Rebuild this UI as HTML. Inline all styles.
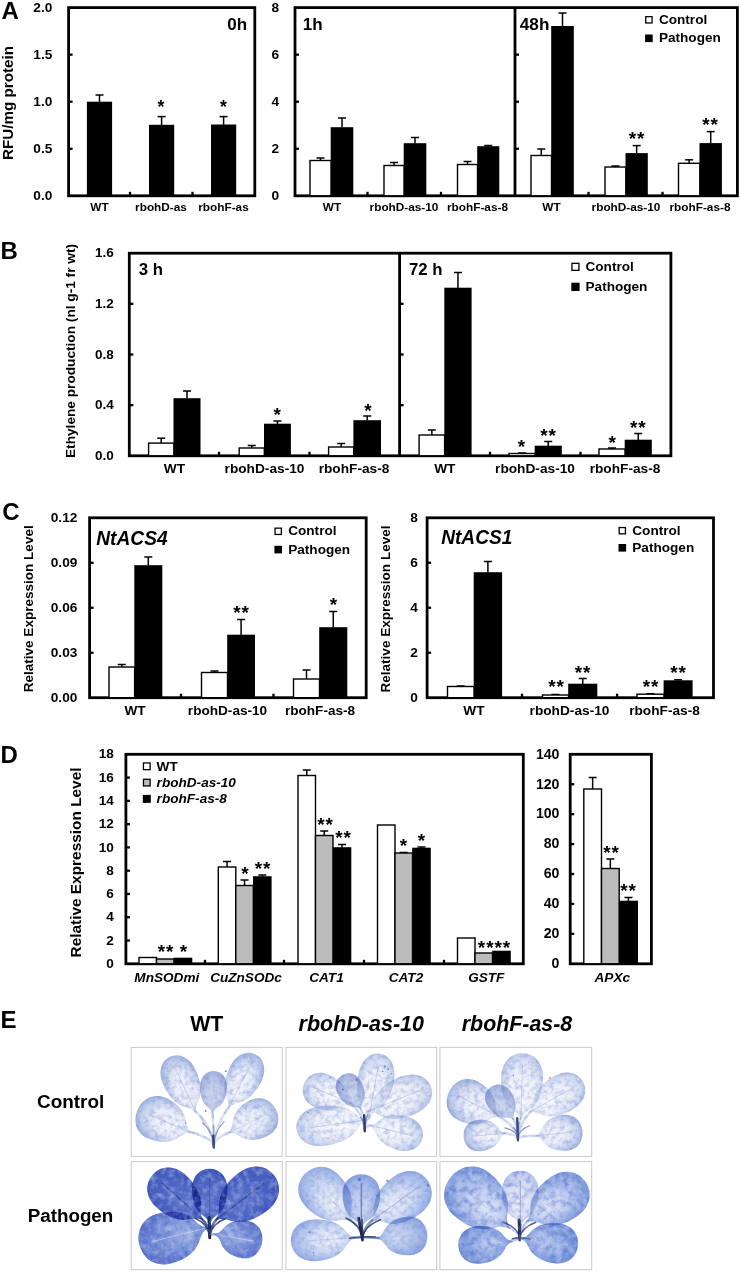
<!DOCTYPE html>
<html lang="en"><head><meta charset="utf-8"><title>Figure</title>
<style>html,body{margin:0;padding:0;background:#fff}body{width:740px;height:1272px;overflow:hidden}svg text{font-family:"Liberation Sans",Arial,Helvetica,sans-serif}</style></head>
<body>
<svg width="740" height="1272" viewBox="0 0 740 1272" style="display:block;font-family:'Liberation Sans', Arial, Helvetica, sans-serif">
<rect width="740" height="1272" fill="#fff"/>
<defs><filter id="soft" x="-5%" y="-5%" width="110%" height="110%" color-interpolation-filters="sRGB"><feTurbulence type="fractalNoise" baseFrequency="0.2" numOctaves="3" seed="11" result="n"/><feColorMatrix in="n" type="matrix" values="0 0 0 0 0.42  0 0 0 0 0.52  0 0 0 0 0.82  0.95 0 0 0 -0.40" result="nb"/><feComposite in="nb" in2="SourceGraphic" operator="in" result="nm"/><feMerge result="m"><feMergeNode in="SourceGraphic"/><feMergeNode in="nm"/></feMerge><feGaussianBlur in="m" stdDeviation="0.5"/></filter><filter id="softw" x="-5%" y="-5%" width="110%" height="110%" color-interpolation-filters="sRGB"><feTurbulence type="fractalNoise" baseFrequency="0.16" numOctaves="3" seed="5" result="n"/><feColorMatrix in="n" type="matrix" values="0 0 0 0 0.30  0 0 0 0 0.40  0 0 0 0 0.78  1.2 0 0 0 -0.50" result="nb"/><feColorMatrix in="n" type="matrix" values="0 0 0 0 0.92  0 0 0 0 0.94  0 0 0 0 1  0 0.8 0 0 -0.33" result="nw"/><feComposite in="nb" in2="SourceGraphic" operator="in" result="nm"/><feComposite in="nw" in2="SourceGraphic" operator="in" result="nm2"/><feMerge result="m"><feMergeNode in="SourceGraphic"/><feMergeNode in="nm"/><feMergeNode in="nm2"/></feMerge><feGaussianBlur in="m" stdDeviation="0.5"/></filter><radialGradient id="g0" cx="0.5" cy="0.5" fx="0.36" fy="0.5" r="0.58"><stop offset="0" stop-color="#f6f7fc"/><stop offset="0.5" stop-color="#e7ebf7"/><stop offset="0.78" stop-color="#c0cdea"/><stop offset="1" stop-color="#8fa6da"/></radialGradient><radialGradient id="g1" cx="0.5" cy="0.5" fx="0.36" fy="0.5" r="0.58"><stop offset="0" stop-color="#f6f7fc"/><stop offset="0.5" stop-color="#e7ebf7"/><stop offset="0.78" stop-color="#c0cdea"/><stop offset="1" stop-color="#8fa6da"/></radialGradient><radialGradient id="g2" cx="0.5" cy="0.5" fx="0.36" fy="0.5" r="0.58"><stop offset="0" stop-color="#f6f7fc"/><stop offset="0.5" stop-color="#e7ebf7"/><stop offset="0.78" stop-color="#c0cdea"/><stop offset="1" stop-color="#8fa6da"/></radialGradient><radialGradient id="g3" cx="0.5" cy="0.5" fx="0.36" fy="0.5" r="0.58"><stop offset="0" stop-color="#f6f7fc"/><stop offset="0.5" stop-color="#e7ebf7"/><stop offset="0.78" stop-color="#c0cdea"/><stop offset="1" stop-color="#8fa6da"/></radialGradient><radialGradient id="g4" cx="0.5" cy="0.5" fx="0.36" fy="0.5" r="0.58"><stop offset="0" stop-color="#d6dcf0"/><stop offset="0.6" stop-color="#bcc7e7"/><stop offset="1" stop-color="#99abda"/></radialGradient><radialGradient id="g5" cx="0.5" cy="0.5" fx="0.36" fy="0.5" r="0.58"><stop offset="0" stop-color="#f8f9fd"/><stop offset="0.55" stop-color="#eceff8"/><stop offset="0.82" stop-color="#cfd8ef"/><stop offset="1" stop-color="#a5b7e2"/></radialGradient><radialGradient id="g6" cx="0.5" cy="0.5" fx="0.36" fy="0.5" r="0.58"><stop offset="0" stop-color="#f8f9fd"/><stop offset="0.55" stop-color="#eceff8"/><stop offset="0.82" stop-color="#cfd8ef"/><stop offset="1" stop-color="#a5b7e2"/></radialGradient><radialGradient id="g7" cx="0.5" cy="0.5" fx="0.36" fy="0.5" r="0.58"><stop offset="0" stop-color="#f8f9fd"/><stop offset="0.55" stop-color="#eceff8"/><stop offset="0.82" stop-color="#cfd8ef"/><stop offset="1" stop-color="#a5b7e2"/></radialGradient><radialGradient id="g8" cx="0.5" cy="0.5" fx="0.36" fy="0.5" r="0.58"><stop offset="0" stop-color="#f8f9fd"/><stop offset="0.55" stop-color="#eceff8"/><stop offset="0.82" stop-color="#cfd8ef"/><stop offset="1" stop-color="#a5b7e2"/></radialGradient><radialGradient id="g9" cx="0.5" cy="0.5" fx="0.36" fy="0.5" r="0.58"><stop offset="0" stop-color="#f8f9fd"/><stop offset="0.55" stop-color="#eceff8"/><stop offset="0.82" stop-color="#cfd8ef"/><stop offset="1" stop-color="#a5b7e2"/></radialGradient><radialGradient id="g10" cx="0.5" cy="0.5" fx="0.36" fy="0.5" r="0.58"><stop offset="0" stop-color="#d6dcf0"/><stop offset="0.6" stop-color="#bcc7e7"/><stop offset="1" stop-color="#99abda"/></radialGradient><radialGradient id="g11" cx="0.5" cy="0.5" fx="0.36" fy="0.5" r="0.58"><stop offset="0" stop-color="#f6f7fc"/><stop offset="0.5" stop-color="#e7ebf7"/><stop offset="0.78" stop-color="#c0cdea"/><stop offset="1" stop-color="#8fa6da"/></radialGradient><radialGradient id="g12" cx="0.5" cy="0.5" fx="0.36" fy="0.5" r="0.58"><stop offset="0" stop-color="#f6f7fc"/><stop offset="0.5" stop-color="#e7ebf7"/><stop offset="0.78" stop-color="#c0cdea"/><stop offset="1" stop-color="#8fa6da"/></radialGradient><radialGradient id="g13" cx="0.5" cy="0.5" fx="0.36" fy="0.5" r="0.58"><stop offset="0" stop-color="#f8f9fd"/><stop offset="0.55" stop-color="#eceff8"/><stop offset="0.82" stop-color="#cfd8ef"/><stop offset="1" stop-color="#a5b7e2"/></radialGradient><radialGradient id="g14" cx="0.5" cy="0.5" fx="0.36" fy="0.5" r="0.58"><stop offset="0" stop-color="#f6f7fc"/><stop offset="0.5" stop-color="#e7ebf7"/><stop offset="0.78" stop-color="#c0cdea"/><stop offset="1" stop-color="#8fa6da"/></radialGradient><radialGradient id="g15" cx="0.5" cy="0.5" fx="0.36" fy="0.5" r="0.58"><stop offset="0" stop-color="#f8f9fd"/><stop offset="0.55" stop-color="#eceff8"/><stop offset="0.82" stop-color="#cfd8ef"/><stop offset="1" stop-color="#a5b7e2"/></radialGradient><radialGradient id="g16" cx="0.5" cy="0.5" fx="0.36" fy="0.5" r="0.58"><stop offset="0" stop-color="#d6dcf0"/><stop offset="0.6" stop-color="#bcc7e7"/><stop offset="1" stop-color="#99abda"/></radialGradient><radialGradient id="g17" cx="0.5" cy="0.5" fx="0.3" fy="0.5" r="0.58"><stop offset="0" stop-color="#9fb1e4"/><stop offset="0.45" stop-color="#7e95d9"/><stop offset="0.8" stop-color="#627ace"/><stop offset="1" stop-color="#4f68c4"/></radialGradient><radialGradient id="g18" cx="0.5" cy="0.5" fx="0.3" fy="0.5" r="0.58"><stop offset="0" stop-color="#9fb1e4"/><stop offset="0.45" stop-color="#7e95d9"/><stop offset="0.8" stop-color="#627ace"/><stop offset="1" stop-color="#4f68c4"/></radialGradient><radialGradient id="g19" cx="0.5" cy="0.5" fx="0.36" fy="0.5" r="0.58"><stop offset="0" stop-color="#5f77cd"/><stop offset="0.5" stop-color="#4d65c3"/><stop offset="0.85" stop-color="#4058ba"/><stop offset="1" stop-color="#374eb0"/></radialGradient><radialGradient id="g20" cx="0.5" cy="0.5" fx="0.36" fy="0.5" r="0.58"><stop offset="0" stop-color="#5f77cd"/><stop offset="0.5" stop-color="#4d65c3"/><stop offset="0.85" stop-color="#4058ba"/><stop offset="1" stop-color="#374eb0"/></radialGradient><radialGradient id="g21" cx="0.5" cy="0.5" fx="0.36" fy="0.5" r="0.58"><stop offset="0" stop-color="#5f77cd"/><stop offset="0.5" stop-color="#4d65c3"/><stop offset="0.85" stop-color="#4058ba"/><stop offset="1" stop-color="#374eb0"/></radialGradient><radialGradient id="g22" cx="0.5" cy="0.5" fx="0.36" fy="0.5" r="0.58"><stop offset="0" stop-color="#eef1fa"/><stop offset="0.45" stop-color="#d5def4"/><stop offset="0.8" stop-color="#aabdea"/><stop offset="1" stop-color="#88a2de"/></radialGradient><radialGradient id="g23" cx="0.5" cy="0.5" fx="0.36" fy="0.5" r="0.58"><stop offset="0" stop-color="#eef1fa"/><stop offset="0.45" stop-color="#d5def4"/><stop offset="0.8" stop-color="#aabdea"/><stop offset="1" stop-color="#88a2de"/></radialGradient><radialGradient id="g24" cx="0.5" cy="0.5" fx="0.36" fy="0.5" r="0.58"><stop offset="0" stop-color="#eef1fa"/><stop offset="0.45" stop-color="#d5def4"/><stop offset="0.8" stop-color="#aabdea"/><stop offset="1" stop-color="#88a2de"/></radialGradient><radialGradient id="g25" cx="0.5" cy="0.5" fx="0.36" fy="0.5" r="0.58"><stop offset="0" stop-color="#d3dcf3"/><stop offset="0.5" stop-color="#b6c6ec"/><stop offset="0.85" stop-color="#93abe2"/><stop offset="1" stop-color="#7f9ada"/></radialGradient><radialGradient id="g26" cx="0.5" cy="0.5" fx="0.36" fy="0.5" r="0.58"><stop offset="0" stop-color="#d3dcf3"/><stop offset="0.5" stop-color="#b6c6ec"/><stop offset="0.85" stop-color="#93abe2"/><stop offset="1" stop-color="#7f9ada"/></radialGradient><radialGradient id="g27" cx="0.5" cy="0.5" fx="0.36" fy="0.5" r="0.58"><stop offset="0" stop-color="#e1e6f7"/><stop offset="0.4" stop-color="#c0cdf0"/><stop offset="0.75" stop-color="#90a9e2"/><stop offset="1" stop-color="#6c8ad6"/></radialGradient><radialGradient id="g28" cx="0.5" cy="0.5" fx="0.36" fy="0.5" r="0.58"><stop offset="0" stop-color="#b6c6ed"/><stop offset="0.5" stop-color="#94ace3"/><stop offset="0.85" stop-color="#7594da"/><stop offset="1" stop-color="#6282d2"/></radialGradient><radialGradient id="g29" cx="0.5" cy="0.5" fx="0.36" fy="0.5" r="0.58"><stop offset="0" stop-color="#e1e6f7"/><stop offset="0.4" stop-color="#c0cdf0"/><stop offset="0.75" stop-color="#90a9e2"/><stop offset="1" stop-color="#6c8ad6"/></radialGradient><radialGradient id="g30" cx="0.5" cy="0.5" fx="0.36" fy="0.5" r="0.58"><stop offset="0" stop-color="#b6c6ed"/><stop offset="0.5" stop-color="#94ace3"/><stop offset="0.85" stop-color="#7594da"/><stop offset="1" stop-color="#6282d2"/></radialGradient><radialGradient id="g31" cx="0.5" cy="0.5" fx="0.36" fy="0.5" r="0.58"><stop offset="0" stop-color="#eceefa"/><stop offset="0.6" stop-color="#d6dcf3"/><stop offset="1" stop-color="#b3c1ea"/></radialGradient></defs>
<text x="1.50" y="18.50" style="font-size:24px;font-weight:bold;" fill="#000">A</text>
<rect x="68.60" y="7.60" width="186.20" height="188.20" fill="none" stroke="#000" stroke-width="2.8" />
<line x1="68.60" y1="54.65" x2="72.60" y2="54.65" stroke="#000" stroke-width="2.3"/>
<line x1="68.60" y1="101.70" x2="72.60" y2="101.70" stroke="#000" stroke-width="2.3"/>
<line x1="68.60" y1="148.75" x2="72.60" y2="148.75" stroke="#000" stroke-width="2.3"/>
<text x="52.30" y="11.80" text-anchor="end" style="font-size:13.7px;font-weight:bold;" fill="#000">2.0</text>
<text x="52.30" y="58.85" text-anchor="end" style="font-size:13.7px;font-weight:bold;" fill="#000">1.5</text>
<text x="52.30" y="105.90" text-anchor="end" style="font-size:13.7px;font-weight:bold;" fill="#000">1.0</text>
<text x="52.30" y="152.95" text-anchor="end" style="font-size:13.7px;font-weight:bold;" fill="#000">0.5</text>
<text x="52.30" y="200.00" text-anchor="end" style="font-size:13.7px;font-weight:bold;" fill="#000">0.0</text>
<text x="12.50" y="103.00" text-anchor="middle" transform="rotate(-90 12.50 103.00)" style="font-size:15.2px;font-weight:bold;" fill="#000">RFU/mg protein</text>
<line x1="130.00" y1="195.80" x2="130.00" y2="191.80" stroke="#000" stroke-width="2.3"/>
<line x1="192.50" y1="195.80" x2="192.50" y2="191.80" stroke="#000" stroke-width="2.3"/>
<line x1="99.50" y1="102.00" x2="99.50" y2="95.00" stroke="#000" stroke-width="1.5"/>
<line x1="95.50" y1="95.00" x2="103.50" y2="95.00" stroke="#000" stroke-width="1.5"/>
<rect x="86.90" y="101.70" width="25.20" height="94.10" fill="#000"/>
<line x1="161.60" y1="125.10" x2="161.60" y2="116.60" stroke="#000" stroke-width="1.5"/>
<line x1="157.60" y1="116.60" x2="165.60" y2="116.60" stroke="#000" stroke-width="1.5"/>
<rect x="149.00" y="124.80" width="25.20" height="71.00" fill="#000"/>
<line x1="223.60" y1="124.80" x2="223.60" y2="116.60" stroke="#000" stroke-width="1.5"/>
<line x1="219.60" y1="116.60" x2="227.60" y2="116.60" stroke="#000" stroke-width="1.5"/>
<rect x="211.00" y="124.50" width="25.20" height="71.30" fill="#000"/>
<text x="161.00" y="112.89" text-anchor="middle" style="font-size:17.7px;font-weight:bold;" fill="#000">*</text>
<text x="223.50" y="112.89" text-anchor="middle" style="font-size:17.7px;font-weight:bold;" fill="#000">*</text>
<text x="237.10" y="29.70" text-anchor="middle" style="font-size:17px;font-weight:bold;" fill="#000">0h</text>
<text x="99.50" y="210.80" text-anchor="middle" style="font-size:11.8px;font-weight:bold;" fill="#000">WT</text>
<text x="161.00" y="210.80" text-anchor="middle" style="font-size:11.8px;font-weight:bold;" fill="#000">rbohD-as</text>
<text x="223.50" y="210.80" text-anchor="middle" style="font-size:11.8px;font-weight:bold;" fill="#000">rbohF-as</text>
<rect x="295.00" y="7.60" width="442.40" height="188.20" fill="none" stroke="#000" stroke-width="2.8" />
<line x1="515.00" y1="7.60" x2="515.00" y2="195.80" stroke="#000" stroke-width="2.8"/>
<line x1="295.00" y1="54.65" x2="299.00" y2="54.65" stroke="#000" stroke-width="2.3"/>
<line x1="295.00" y1="101.70" x2="299.00" y2="101.70" stroke="#000" stroke-width="2.3"/>
<line x1="295.00" y1="148.75" x2="299.00" y2="148.75" stroke="#000" stroke-width="2.3"/>
<line x1="515.00" y1="54.65" x2="519.00" y2="54.65" stroke="#000" stroke-width="2.3"/>
<line x1="515.00" y1="101.70" x2="519.00" y2="101.70" stroke="#000" stroke-width="2.3"/>
<line x1="515.00" y1="148.75" x2="519.00" y2="148.75" stroke="#000" stroke-width="2.3"/>
<text x="279.10" y="11.80" text-anchor="end" style="font-size:13.7px;font-weight:bold;" fill="#000">8</text>
<text x="279.10" y="58.85" text-anchor="end" style="font-size:13.7px;font-weight:bold;" fill="#000">6</text>
<text x="279.10" y="105.90" text-anchor="end" style="font-size:13.7px;font-weight:bold;" fill="#000">4</text>
<text x="279.10" y="152.95" text-anchor="end" style="font-size:13.7px;font-weight:bold;" fill="#000">2</text>
<text x="279.10" y="200.00" text-anchor="end" style="font-size:13.7px;font-weight:bold;" fill="#000">0</text>
<line x1="367.50" y1="195.80" x2="367.50" y2="191.80" stroke="#000" stroke-width="2.3"/>
<line x1="441.00" y1="195.80" x2="441.00" y2="191.80" stroke="#000" stroke-width="2.3"/>
<line x1="588.50" y1="195.80" x2="588.50" y2="191.80" stroke="#000" stroke-width="2.3"/>
<line x1="662.50" y1="195.80" x2="662.50" y2="191.80" stroke="#000" stroke-width="2.3"/>
<line x1="342.00" y1="127.50" x2="342.00" y2="118.00" stroke="#000" stroke-width="1.5"/>
<line x1="338.00" y1="118.00" x2="346.00" y2="118.00" stroke="#000" stroke-width="1.5"/>
<rect x="330.70" y="127.20" width="22.60" height="68.60" fill="#000"/>
<line x1="320.50" y1="160.50" x2="320.50" y2="158.00" stroke="#000" stroke-width="1.5"/>
<line x1="316.50" y1="158.00" x2="324.50" y2="158.00" stroke="#000" stroke-width="1.5"/>
<rect x="310.00" y="160.50" width="21.00" height="35.30" fill="#fff" stroke="#000" stroke-width="1.4"/>
<line x1="415.00" y1="143.50" x2="415.00" y2="137.50" stroke="#000" stroke-width="1.5"/>
<line x1="411.00" y1="137.50" x2="419.00" y2="137.50" stroke="#000" stroke-width="1.5"/>
<rect x="403.70" y="143.20" width="22.60" height="52.60" fill="#000"/>
<line x1="394.00" y1="165.50" x2="394.00" y2="162.50" stroke="#000" stroke-width="1.5"/>
<line x1="390.00" y1="162.50" x2="398.00" y2="162.50" stroke="#000" stroke-width="1.5"/>
<rect x="384.00" y="165.50" width="20.00" height="30.30" fill="#fff" stroke="#000" stroke-width="1.4"/>
<line x1="488.25" y1="146.50" x2="488.25" y2="145.50" stroke="#000" stroke-width="1.5"/>
<line x1="484.25" y1="145.50" x2="492.25" y2="145.50" stroke="#000" stroke-width="1.5"/>
<rect x="477.20" y="146.20" width="22.10" height="49.60" fill="#000"/>
<line x1="467.50" y1="164.50" x2="467.50" y2="161.50" stroke="#000" stroke-width="1.5"/>
<line x1="463.50" y1="161.50" x2="471.50" y2="161.50" stroke="#000" stroke-width="1.5"/>
<rect x="457.50" y="164.50" width="20.00" height="31.30" fill="#fff" stroke="#000" stroke-width="1.4"/>
<line x1="562.50" y1="26.30" x2="562.50" y2="13.00" stroke="#000" stroke-width="1.5"/>
<line x1="558.50" y1="13.00" x2="566.50" y2="13.00" stroke="#000" stroke-width="1.5"/>
<rect x="551.20" y="26.00" width="22.60" height="169.80" fill="#000"/>
<line x1="541.25" y1="155.50" x2="541.25" y2="149.00" stroke="#000" stroke-width="1.5"/>
<line x1="537.25" y1="149.00" x2="545.25" y2="149.00" stroke="#000" stroke-width="1.5"/>
<rect x="531.00" y="155.50" width="20.50" height="40.30" fill="#fff" stroke="#000" stroke-width="1.4"/>
<line x1="636.65" y1="153.40" x2="636.65" y2="145.60" stroke="#000" stroke-width="1.5"/>
<line x1="632.65" y1="145.60" x2="640.65" y2="145.60" stroke="#000" stroke-width="1.5"/>
<rect x="625.50" y="153.10" width="22.30" height="42.70" fill="#000"/>
<line x1="615.40" y1="167.00" x2="615.40" y2="166.00" stroke="#000" stroke-width="1.5"/>
<line x1="611.40" y1="166.00" x2="619.40" y2="166.00" stroke="#000" stroke-width="1.5"/>
<rect x="605.00" y="167.00" width="20.80" height="28.80" fill="#fff" stroke="#000" stroke-width="1.4"/>
<line x1="710.70" y1="143.40" x2="710.70" y2="131.60" stroke="#000" stroke-width="1.5"/>
<line x1="706.70" y1="131.60" x2="714.70" y2="131.60" stroke="#000" stroke-width="1.5"/>
<rect x="699.50" y="143.10" width="22.40" height="52.70" fill="#000"/>
<line x1="689.15" y1="163.30" x2="689.15" y2="159.80" stroke="#000" stroke-width="1.5"/>
<line x1="685.15" y1="159.80" x2="693.15" y2="159.80" stroke="#000" stroke-width="1.5"/>
<rect x="678.50" y="163.30" width="21.30" height="32.50" fill="#fff" stroke="#000" stroke-width="1.4"/>
<text x="637.05" y="144.85" text-anchor="middle" style="font-size:19px;font-weight:bold;letter-spacing:0.9px;">**</text>
<text x="710.55" y="131.05" text-anchor="middle" style="font-size:19px;font-weight:bold;letter-spacing:0.9px;">**</text>
<text x="302.80" y="29.60" style="font-size:17px;font-weight:bold;" fill="#000">1h</text>
<text x="519.80" y="29.60" style="font-size:17.2px;font-weight:bold;" fill="#000">48h</text>
<rect x="645.75" y="16.65" width="6.30" height="6.30" fill="#fff" stroke="#000" stroke-width="1.3"/>
<text x="658.90" y="23.80" style="font-size:13.6px;font-weight:bold;" fill="#000">Control</text>
<rect x="645.10" y="34.50" width="7.60" height="7.60" fill="#000"/>
<text x="658.90" y="42.30" style="font-size:13.6px;font-weight:bold;" fill="#000">Pathogen</text>
<text x="332.00" y="210.60" text-anchor="middle" style="font-size:11.8px;font-weight:bold;" fill="#000">WT</text>
<text x="404.00" y="210.60" text-anchor="middle" style="font-size:11.8px;font-weight:bold;" fill="#000">rbohD-as-10</text>
<text x="477.50" y="210.60" text-anchor="middle" style="font-size:11.8px;font-weight:bold;" fill="#000">rbohF-as-8</text>
<text x="551.50" y="210.60" text-anchor="middle" style="font-size:11.8px;font-weight:bold;" fill="#000">WT</text>
<text x="626.00" y="210.60" text-anchor="middle" style="font-size:11.8px;font-weight:bold;" fill="#000">rbohD-as-10</text>
<text x="700.00" y="210.60" text-anchor="middle" style="font-size:11.8px;font-weight:bold;" fill="#000">rbohF-as-8</text>
<text x="0.50" y="259.30" style="font-size:24px;font-weight:bold;" fill="#000">B</text>
<rect x="129.30" y="253.20" width="541.60" height="202.60" fill="none" stroke="#000" stroke-width="2.8" />
<line x1="399.60" y1="253.20" x2="399.60" y2="455.80" stroke="#000" stroke-width="2.8"/>
<line x1="129.30" y1="303.85" x2="133.30" y2="303.85" stroke="#000" stroke-width="2.3"/>
<line x1="129.30" y1="354.50" x2="133.30" y2="354.50" stroke="#000" stroke-width="2.3"/>
<line x1="129.30" y1="405.15" x2="133.30" y2="405.15" stroke="#000" stroke-width="2.3"/>
<line x1="399.60" y1="303.85" x2="403.60" y2="303.85" stroke="#000" stroke-width="2.3"/>
<line x1="399.60" y1="354.50" x2="403.60" y2="354.50" stroke="#000" stroke-width="2.3"/>
<line x1="399.60" y1="405.15" x2="403.60" y2="405.15" stroke="#000" stroke-width="2.3"/>
<text x="113.80" y="257.40" text-anchor="end" style="font-size:13.5px;font-weight:bold;" fill="#000">1.6</text>
<text x="113.80" y="308.05" text-anchor="end" style="font-size:13.5px;font-weight:bold;" fill="#000">1.2</text>
<text x="113.80" y="358.70" text-anchor="end" style="font-size:13.5px;font-weight:bold;" fill="#000">0.8</text>
<text x="113.80" y="409.35" text-anchor="end" style="font-size:13.5px;font-weight:bold;" fill="#000">0.4</text>
<text x="113.80" y="460.00" text-anchor="end" style="font-size:13.5px;font-weight:bold;" fill="#000">0.0</text>
<text x="74.60" y="351.00" text-anchor="middle" textLength="214" lengthAdjust="spacingAndGlyphs" transform="rotate(-90 74.60 351.00)" style="font-size:13.4px;font-weight:bold;" fill="#000">Ethylene production (nl g-1 fr wt)</text>
<line x1="219.00" y1="455.80" x2="219.00" y2="451.80" stroke="#000" stroke-width="2.3"/>
<line x1="309.50" y1="455.80" x2="309.50" y2="451.80" stroke="#000" stroke-width="2.3"/>
<line x1="490.00" y1="455.80" x2="490.00" y2="451.80" stroke="#000" stroke-width="2.3"/>
<line x1="580.50" y1="455.80" x2="580.50" y2="451.80" stroke="#000" stroke-width="2.3"/>
<line x1="187.00" y1="398.50" x2="187.00" y2="391.00" stroke="#000" stroke-width="1.5"/>
<line x1="183.00" y1="391.00" x2="191.00" y2="391.00" stroke="#000" stroke-width="1.5"/>
<rect x="173.50" y="398.20" width="27.00" height="57.60" fill="#000"/>
<line x1="161.20" y1="443.10" x2="161.20" y2="438.20" stroke="#000" stroke-width="1.5"/>
<line x1="157.20" y1="438.20" x2="165.20" y2="438.20" stroke="#000" stroke-width="1.5"/>
<rect x="148.60" y="443.10" width="25.20" height="12.70" fill="#fff" stroke="#000" stroke-width="1.4"/>
<line x1="277.45" y1="424.00" x2="277.45" y2="421.00" stroke="#000" stroke-width="1.5"/>
<line x1="273.45" y1="421.00" x2="281.45" y2="421.00" stroke="#000" stroke-width="1.5"/>
<rect x="264.00" y="423.70" width="26.90" height="32.10" fill="#000"/>
<line x1="251.75" y1="448.00" x2="251.75" y2="445.50" stroke="#000" stroke-width="1.5"/>
<line x1="247.75" y1="445.50" x2="255.75" y2="445.50" stroke="#000" stroke-width="1.5"/>
<rect x="239.20" y="448.00" width="25.10" height="7.80" fill="#fff" stroke="#000" stroke-width="1.4"/>
<line x1="367.20" y1="420.50" x2="367.20" y2="416.00" stroke="#000" stroke-width="1.5"/>
<line x1="363.20" y1="416.00" x2="371.20" y2="416.00" stroke="#000" stroke-width="1.5"/>
<rect x="353.40" y="420.20" width="27.60" height="35.60" fill="#000"/>
<line x1="341.15" y1="447.00" x2="341.15" y2="443.50" stroke="#000" stroke-width="1.5"/>
<line x1="337.15" y1="443.50" x2="345.15" y2="443.50" stroke="#000" stroke-width="1.5"/>
<rect x="328.60" y="447.00" width="25.10" height="8.80" fill="#fff" stroke="#000" stroke-width="1.4"/>
<line x1="457.95" y1="288.00" x2="457.95" y2="272.50" stroke="#000" stroke-width="1.5"/>
<line x1="453.95" y1="272.50" x2="461.95" y2="272.50" stroke="#000" stroke-width="1.5"/>
<rect x="444.30" y="287.70" width="27.30" height="168.10" fill="#000"/>
<line x1="431.85" y1="435.00" x2="431.85" y2="430.00" stroke="#000" stroke-width="1.5"/>
<line x1="427.85" y1="430.00" x2="435.85" y2="430.00" stroke="#000" stroke-width="1.5"/>
<rect x="419.10" y="435.00" width="25.50" height="20.80" fill="#fff" stroke="#000" stroke-width="1.4"/>
<line x1="548.25" y1="446.00" x2="548.25" y2="441.50" stroke="#000" stroke-width="1.5"/>
<line x1="544.25" y1="441.50" x2="552.25" y2="441.50" stroke="#000" stroke-width="1.5"/>
<rect x="534.70" y="445.70" width="27.10" height="10.10" fill="#000"/>
<line x1="522.00" y1="453.50" x2="522.00" y2="453.00" stroke="#000" stroke-width="1.5"/>
<line x1="518.00" y1="453.00" x2="526.00" y2="453.00" stroke="#000" stroke-width="1.5"/>
<rect x="509.00" y="453.50" width="26.00" height="2.30" fill="#fff" stroke="#000" stroke-width="1.4"/>
<line x1="638.25" y1="440.00" x2="638.25" y2="433.50" stroke="#000" stroke-width="1.5"/>
<line x1="634.25" y1="433.50" x2="642.25" y2="433.50" stroke="#000" stroke-width="1.5"/>
<rect x="624.70" y="439.70" width="27.10" height="16.10" fill="#000"/>
<line x1="612.00" y1="449.00" x2="612.00" y2="448.00" stroke="#000" stroke-width="1.5"/>
<line x1="608.00" y1="448.00" x2="616.00" y2="448.00" stroke="#000" stroke-width="1.5"/>
<rect x="599.00" y="449.00" width="26.00" height="6.80" fill="#fff" stroke="#000" stroke-width="1.4"/>
<text x="277.20" y="420.75" text-anchor="middle" style="font-size:19px;font-weight:bold;" fill="#000">*</text>
<text x="368.00" y="417.25" text-anchor="middle" style="font-size:19px;font-weight:bold;" fill="#000">*</text>
<text x="521.40" y="452.75" text-anchor="middle" style="font-size:19px;font-weight:bold;" fill="#000">*</text>
<text x="548.45" y="442.05" text-anchor="middle" style="font-size:19px;font-weight:bold;letter-spacing:0.9px;">**</text>
<text x="612.10" y="448.95" text-anchor="middle" style="font-size:19px;font-weight:bold;" fill="#000">*</text>
<text x="638.25" y="434.05" text-anchor="middle" style="font-size:19px;font-weight:bold;letter-spacing:0.9px;">**</text>
<text x="138.80" y="275.20" style="font-size:16.8px;font-weight:bold;" fill="#000">3 h</text>
<text x="409.00" y="275.20" style="font-size:16.8px;font-weight:bold;" fill="#000">72 h</text>
<rect x="571.95" y="263.35" width="7.00" height="7.00" fill="#fff" stroke="#000" stroke-width="1.3"/>
<text x="585.50" y="271.20" style="font-size:13.6px;font-weight:bold;" fill="#000">Control</text>
<rect x="571.30" y="282.70" width="8.30" height="8.30" fill="#000"/>
<text x="585.50" y="291.20" style="font-size:13.6px;font-weight:bold;" fill="#000">Pathogen</text>
<text x="174.50" y="473.10" text-anchor="middle" style="font-size:13.7px;font-weight:bold;" fill="#000">WT</text>
<text x="264.50" y="473.10" text-anchor="middle" style="font-size:13.7px;font-weight:bold;" fill="#000">rbohD-as-10</text>
<text x="354.00" y="473.10" text-anchor="middle" style="font-size:13.7px;font-weight:bold;" fill="#000">rbohF-as-8</text>
<text x="444.80" y="473.10" text-anchor="middle" style="font-size:13.7px;font-weight:bold;" fill="#000">WT</text>
<text x="535.00" y="473.10" text-anchor="middle" style="font-size:13.7px;font-weight:bold;" fill="#000">rbohD-as-10</text>
<text x="625.00" y="473.10" text-anchor="middle" style="font-size:13.7px;font-weight:bold;" fill="#000">rbohF-as-8</text>
<text x="2.20" y="520.00" style="font-size:24px;font-weight:bold;" fill="#000">C</text>
<rect x="89.60" y="517.80" width="276.60" height="179.90" fill="none" stroke="#000" stroke-width="2.8" />
<line x1="89.60" y1="562.77" x2="93.60" y2="562.77" stroke="#000" stroke-width="2.3"/>
<line x1="89.60" y1="607.75" x2="93.60" y2="607.75" stroke="#000" stroke-width="2.3"/>
<line x1="89.60" y1="652.73" x2="93.60" y2="652.73" stroke="#000" stroke-width="2.3"/>
<text x="77.40" y="522.30" text-anchor="end" style="font-size:13.7px;font-weight:bold;" fill="#000">0.12</text>
<text x="77.40" y="567.27" text-anchor="end" style="font-size:13.7px;font-weight:bold;" fill="#000">0.09</text>
<text x="77.40" y="612.25" text-anchor="end" style="font-size:13.7px;font-weight:bold;" fill="#000">0.06</text>
<text x="77.40" y="657.23" text-anchor="end" style="font-size:13.7px;font-weight:bold;" fill="#000">0.03</text>
<text x="77.40" y="702.20" text-anchor="end" style="font-size:13.7px;font-weight:bold;" fill="#000">0.00</text>
<text x="33.20" y="608.80" text-anchor="middle" textLength="167" lengthAdjust="spacingAndGlyphs" transform="rotate(-90 33.20 608.80)" style="font-size:13.2px;font-weight:bold;" fill="#000">Relative Expression Level</text>
<line x1="181.00" y1="697.70" x2="181.00" y2="693.70" stroke="#000" stroke-width="2.3"/>
<line x1="273.50" y1="697.70" x2="273.50" y2="693.70" stroke="#000" stroke-width="2.3"/>
<line x1="148.30" y1="565.50" x2="148.30" y2="557.00" stroke="#000" stroke-width="1.5"/>
<line x1="144.30" y1="557.00" x2="152.30" y2="557.00" stroke="#000" stroke-width="1.5"/>
<rect x="134.30" y="565.20" width="28.00" height="132.50" fill="#000"/>
<line x1="121.80" y1="667.00" x2="121.80" y2="664.50" stroke="#000" stroke-width="1.5"/>
<line x1="117.80" y1="664.50" x2="125.80" y2="664.50" stroke="#000" stroke-width="1.5"/>
<rect x="109.00" y="667.00" width="25.60" height="30.70" fill="#fff" stroke="#000" stroke-width="1.4"/>
<line x1="241.10" y1="635.00" x2="241.10" y2="619.50" stroke="#000" stroke-width="1.5"/>
<line x1="237.10" y1="619.50" x2="245.10" y2="619.50" stroke="#000" stroke-width="1.5"/>
<rect x="227.20" y="634.70" width="27.80" height="63.00" fill="#000"/>
<line x1="214.50" y1="672.50" x2="214.50" y2="671.00" stroke="#000" stroke-width="1.5"/>
<line x1="210.50" y1="671.00" x2="218.50" y2="671.00" stroke="#000" stroke-width="1.5"/>
<rect x="201.50" y="672.50" width="26.00" height="25.20" fill="#fff" stroke="#000" stroke-width="1.4"/>
<line x1="333.25" y1="627.50" x2="333.25" y2="611.50" stroke="#000" stroke-width="1.5"/>
<line x1="329.25" y1="611.50" x2="337.25" y2="611.50" stroke="#000" stroke-width="1.5"/>
<rect x="319.20" y="627.20" width="28.10" height="70.50" fill="#000"/>
<line x1="306.50" y1="679.00" x2="306.50" y2="670.00" stroke="#000" stroke-width="1.5"/>
<line x1="302.50" y1="670.00" x2="310.50" y2="670.00" stroke="#000" stroke-width="1.5"/>
<rect x="293.50" y="679.00" width="26.00" height="18.70" fill="#fff" stroke="#000" stroke-width="1.4"/>
<text x="241.45" y="618.95" text-anchor="middle" style="font-size:19px;font-weight:bold;letter-spacing:0.9px;">**</text>
<text x="333.50" y="611.35" text-anchor="middle" style="font-size:19px;font-weight:bold;" fill="#000">*</text>
<text x="96.20" y="545.40" textLength="71.5" lengthAdjust="spacingAndGlyphs" style="font-size:20px;font-weight:bold;font-style:italic;" fill="#000">NtACS4</text>
<rect x="275.05" y="528.15" width="6.30" height="6.30" fill="#fff" stroke="#000" stroke-width="1.3"/>
<text x="288.20" y="535.30" style="font-size:13.6px;font-weight:bold;" fill="#000">Control</text>
<rect x="274.40" y="545.80" width="7.60" height="7.60" fill="#000"/>
<text x="288.20" y="553.60" style="font-size:13.6px;font-weight:bold;" fill="#000">Pathogen</text>
<text x="135.00" y="715.40" text-anchor="middle" style="font-size:13.6px;font-weight:bold;" fill="#000">WT</text>
<text x="227.50" y="715.40" text-anchor="middle" style="font-size:13.6px;font-weight:bold;" fill="#000">rbohD-as-10</text>
<text x="320.00" y="715.40" text-anchor="middle" style="font-size:13.6px;font-weight:bold;" fill="#000">rbohF-as-8</text>
<rect x="427.10" y="517.80" width="286.40" height="179.90" fill="none" stroke="#000" stroke-width="2.8" />
<line x1="427.10" y1="562.77" x2="431.10" y2="562.77" stroke="#000" stroke-width="2.3"/>
<line x1="427.10" y1="607.75" x2="431.10" y2="607.75" stroke="#000" stroke-width="2.3"/>
<line x1="427.10" y1="652.73" x2="431.10" y2="652.73" stroke="#000" stroke-width="2.3"/>
<text x="417.80" y="522.10" text-anchor="end" style="font-size:13.7px;font-weight:bold;" fill="#000">8</text>
<text x="417.80" y="567.07" text-anchor="end" style="font-size:13.7px;font-weight:bold;" fill="#000">6</text>
<text x="417.80" y="612.05" text-anchor="end" style="font-size:13.7px;font-weight:bold;" fill="#000">4</text>
<text x="417.80" y="657.02" text-anchor="end" style="font-size:13.7px;font-weight:bold;" fill="#000">2</text>
<text x="417.80" y="702.00" text-anchor="end" style="font-size:13.7px;font-weight:bold;" fill="#000">0</text>
<text x="389.50" y="609.00" text-anchor="middle" textLength="167" lengthAdjust="spacingAndGlyphs" transform="rotate(-90 389.50 609.00)" style="font-size:13.2px;font-weight:bold;" fill="#000">Relative Expression Level</text>
<line x1="522.00" y1="697.70" x2="522.00" y2="693.70" stroke="#000" stroke-width="2.3"/>
<line x1="617.10" y1="697.70" x2="617.10" y2="693.70" stroke="#000" stroke-width="2.3"/>
<line x1="487.90" y1="572.50" x2="487.90" y2="561.50" stroke="#000" stroke-width="1.5"/>
<line x1="483.90" y1="561.50" x2="491.90" y2="561.50" stroke="#000" stroke-width="1.5"/>
<rect x="473.70" y="572.20" width="28.40" height="125.50" fill="#000"/>
<line x1="460.75" y1="686.50" x2="460.75" y2="686.00" stroke="#000" stroke-width="1.5"/>
<line x1="456.75" y1="686.00" x2="464.75" y2="686.00" stroke="#000" stroke-width="1.5"/>
<rect x="447.50" y="686.50" width="26.50" height="11.20" fill="#fff" stroke="#000" stroke-width="1.4"/>
<line x1="582.75" y1="684.00" x2="582.75" y2="678.50" stroke="#000" stroke-width="1.5"/>
<line x1="578.75" y1="678.50" x2="586.75" y2="678.50" stroke="#000" stroke-width="1.5"/>
<rect x="568.20" y="683.70" width="29.10" height="14.00" fill="#000"/>
<line x1="555.50" y1="695.00" x2="555.50" y2="694.50" stroke="#000" stroke-width="1.5"/>
<line x1="551.50" y1="694.50" x2="559.50" y2="694.50" stroke="#000" stroke-width="1.5"/>
<rect x="542.50" y="695.00" width="26.00" height="2.70" fill="#fff" stroke="#000" stroke-width="1.4"/>
<line x1="678.10" y1="680.60" x2="678.10" y2="679.80" stroke="#000" stroke-width="1.5"/>
<line x1="674.10" y1="679.80" x2="682.10" y2="679.80" stroke="#000" stroke-width="1.5"/>
<rect x="663.60" y="680.30" width="29.00" height="17.40" fill="#000"/>
<line x1="650.45" y1="694.20" x2="650.45" y2="693.70" stroke="#000" stroke-width="1.5"/>
<line x1="646.45" y1="693.70" x2="654.45" y2="693.70" stroke="#000" stroke-width="1.5"/>
<rect x="637.00" y="694.20" width="26.90" height="3.50" fill="#fff" stroke="#000" stroke-width="1.4"/>
<text x="556.45" y="693.35" text-anchor="middle" style="font-size:19px;font-weight:bold;letter-spacing:0.9px;">**</text>
<text x="582.95" y="678.55" text-anchor="middle" style="font-size:19px;font-weight:bold;letter-spacing:0.9px;">**</text>
<text x="650.95" y="692.95" text-anchor="middle" style="font-size:19px;font-weight:bold;letter-spacing:0.9px;">**</text>
<text x="678.45" y="678.95" text-anchor="middle" style="font-size:19px;font-weight:bold;letter-spacing:0.9px;">**</text>
<text x="441.20" y="544.10" textLength="71.2" lengthAdjust="spacingAndGlyphs" style="font-size:20px;font-weight:bold;font-style:italic;" fill="#000">NtACS1</text>
<rect x="619.15" y="527.55" width="6.30" height="6.30" fill="#fff" stroke="#000" stroke-width="1.3"/>
<text x="632.30" y="534.70" style="font-size:13.6px;font-weight:bold;" fill="#000">Control</text>
<rect x="618.50" y="544.00" width="7.60" height="7.60" fill="#000"/>
<text x="632.30" y="551.80" style="font-size:13.6px;font-weight:bold;" fill="#000">Pathogen</text>
<text x="474.00" y="715.40" text-anchor="middle" style="font-size:13.7px;font-weight:bold;" fill="#000">WT</text>
<text x="569.50" y="715.40" text-anchor="middle" style="font-size:13.7px;font-weight:bold;" fill="#000">rbohD-as-10</text>
<text x="664.50" y="715.40" text-anchor="middle" style="font-size:13.7px;font-weight:bold;" fill="#000">rbohF-as-8</text>
<text x="0.40" y="763.20" style="font-size:24px;font-weight:bold;" fill="#000">D</text>
<rect x="125.90" y="754.30" width="397.40" height="209.50" fill="none" stroke="#000" stroke-width="2.8" />
<line x1="125.90" y1="777.58" x2="129.90" y2="777.58" stroke="#000" stroke-width="2.3"/>
<line x1="125.90" y1="800.86" x2="129.90" y2="800.86" stroke="#000" stroke-width="2.3"/>
<line x1="125.90" y1="824.13" x2="129.90" y2="824.13" stroke="#000" stroke-width="2.3"/>
<line x1="125.90" y1="847.41" x2="129.90" y2="847.41" stroke="#000" stroke-width="2.3"/>
<line x1="125.90" y1="870.69" x2="129.90" y2="870.69" stroke="#000" stroke-width="2.3"/>
<line x1="125.90" y1="893.97" x2="129.90" y2="893.97" stroke="#000" stroke-width="2.3"/>
<line x1="125.90" y1="917.24" x2="129.90" y2="917.24" stroke="#000" stroke-width="2.3"/>
<line x1="125.90" y1="940.52" x2="129.90" y2="940.52" stroke="#000" stroke-width="2.3"/>
<text x="113.90" y="758.40" text-anchor="end" style="font-size:13.6px;font-weight:bold;" fill="#000">18</text>
<text x="113.90" y="781.68" text-anchor="end" style="font-size:13.6px;font-weight:bold;" fill="#000">16</text>
<text x="113.90" y="804.96" text-anchor="end" style="font-size:13.6px;font-weight:bold;" fill="#000">14</text>
<text x="113.90" y="828.23" text-anchor="end" style="font-size:13.6px;font-weight:bold;" fill="#000">12</text>
<text x="113.90" y="851.51" text-anchor="end" style="font-size:13.6px;font-weight:bold;" fill="#000">10</text>
<text x="113.90" y="874.79" text-anchor="end" style="font-size:13.6px;font-weight:bold;" fill="#000">8</text>
<text x="113.90" y="898.07" text-anchor="end" style="font-size:13.6px;font-weight:bold;" fill="#000">6</text>
<text x="113.90" y="921.34" text-anchor="end" style="font-size:13.6px;font-weight:bold;" fill="#000">4</text>
<text x="113.90" y="944.62" text-anchor="end" style="font-size:13.6px;font-weight:bold;" fill="#000">2</text>
<text x="113.90" y="967.90" text-anchor="end" style="font-size:13.6px;font-weight:bold;" fill="#000">0</text>
<text x="80.90" y="862.50" text-anchor="middle" textLength="190" lengthAdjust="spacingAndGlyphs" transform="rotate(-90 80.90 862.50)" style="font-size:15.5px;font-weight:bold;" fill="#000">Relative Expression Level</text>
<line x1="205.00" y1="963.80" x2="205.00" y2="959.80" stroke="#000" stroke-width="2.3"/>
<line x1="284.00" y1="963.80" x2="284.00" y2="959.80" stroke="#000" stroke-width="2.3"/>
<line x1="364.00" y1="963.80" x2="364.00" y2="959.80" stroke="#000" stroke-width="2.3"/>
<line x1="444.00" y1="963.80" x2="444.00" y2="959.80" stroke="#000" stroke-width="2.3"/>
<rect x="139.00" y="957.50" width="17.50" height="6.30" fill="#fff" stroke="#000" stroke-width="1.4"/>
<rect x="156.50" y="959.00" width="17.50" height="4.80" fill="#bcbcbc" stroke="#000" stroke-width="1.4"/>
<rect x="173.70" y="957.70" width="18.60" height="6.10" fill="#000"/>
<line x1="227.05" y1="867.00" x2="227.05" y2="861.50" stroke="#000" stroke-width="1.5"/>
<line x1="223.05" y1="861.50" x2="231.05" y2="861.50" stroke="#000" stroke-width="1.5"/>
<rect x="218.30" y="867.00" width="17.50" height="96.80" fill="#fff" stroke="#000" stroke-width="1.4"/>
<line x1="244.55" y1="885.50" x2="244.55" y2="880.00" stroke="#000" stroke-width="1.5"/>
<line x1="240.55" y1="880.00" x2="248.55" y2="880.00" stroke="#000" stroke-width="1.5"/>
<rect x="235.80" y="885.50" width="17.50" height="78.30" fill="#bcbcbc" stroke="#000" stroke-width="1.4"/>
<line x1="262.30" y1="876.50" x2="262.30" y2="875.00" stroke="#000" stroke-width="1.5"/>
<line x1="258.30" y1="875.00" x2="266.30" y2="875.00" stroke="#000" stroke-width="1.5"/>
<rect x="253.00" y="876.20" width="18.60" height="87.60" fill="#000"/>
<line x1="306.75" y1="775.50" x2="306.75" y2="770.00" stroke="#000" stroke-width="1.5"/>
<line x1="302.75" y1="770.00" x2="310.75" y2="770.00" stroke="#000" stroke-width="1.5"/>
<rect x="298.00" y="775.50" width="17.50" height="188.30" fill="#fff" stroke="#000" stroke-width="1.4"/>
<line x1="324.25" y1="835.50" x2="324.25" y2="831.00" stroke="#000" stroke-width="1.5"/>
<line x1="320.25" y1="831.00" x2="328.25" y2="831.00" stroke="#000" stroke-width="1.5"/>
<rect x="315.50" y="835.50" width="17.50" height="128.30" fill="#bcbcbc" stroke="#000" stroke-width="1.4"/>
<line x1="342.00" y1="847.50" x2="342.00" y2="844.50" stroke="#000" stroke-width="1.5"/>
<line x1="338.00" y1="844.50" x2="346.00" y2="844.50" stroke="#000" stroke-width="1.5"/>
<rect x="332.70" y="847.20" width="18.60" height="116.60" fill="#000"/>
<rect x="377.50" y="825.00" width="17.50" height="138.80" fill="#fff" stroke="#000" stroke-width="1.4"/>
<line x1="403.75" y1="853.00" x2="403.75" y2="852.50" stroke="#000" stroke-width="1.5"/>
<line x1="399.75" y1="852.50" x2="407.75" y2="852.50" stroke="#000" stroke-width="1.5"/>
<rect x="395.00" y="853.00" width="17.50" height="110.80" fill="#bcbcbc" stroke="#000" stroke-width="1.4"/>
<line x1="421.50" y1="848.00" x2="421.50" y2="847.00" stroke="#000" stroke-width="1.5"/>
<line x1="417.50" y1="847.00" x2="425.50" y2="847.00" stroke="#000" stroke-width="1.5"/>
<rect x="412.20" y="847.70" width="18.60" height="116.10" fill="#000"/>
<rect x="457.50" y="938.00" width="17.50" height="25.80" fill="#fff" stroke="#000" stroke-width="1.4"/>
<rect x="475.00" y="953.00" width="17.50" height="10.80" fill="#bcbcbc" stroke="#000" stroke-width="1.4"/>
<rect x="492.20" y="950.70" width="18.60" height="13.10" fill="#000"/>
<text x="165.95" y="957.75" text-anchor="middle" style="font-size:19px;font-weight:bold;letter-spacing:0.9px;">**</text>
<text x="183.50" y="957.75" text-anchor="middle" style="font-size:19px;font-weight:bold;" fill="#000">*</text>
<text x="245.00" y="880.35" text-anchor="middle" style="font-size:19px;font-weight:bold;" fill="#000">*</text>
<text x="262.95" y="874.55" text-anchor="middle" style="font-size:19px;font-weight:bold;letter-spacing:0.9px;">**</text>
<text x="325.45" y="830.75" text-anchor="middle" style="font-size:19px;font-weight:bold;letter-spacing:0.9px;">**</text>
<text x="343.45" y="844.35" text-anchor="middle" style="font-size:19px;font-weight:bold;letter-spacing:0.9px;">**</text>
<text x="403.50" y="851.75" text-anchor="middle" style="font-size:19px;font-weight:bold;" fill="#000">*</text>
<text x="421.50" y="846.75" text-anchor="middle" style="font-size:19px;font-weight:bold;" fill="#000">*</text>
<text x="494.45" y="954.25" text-anchor="middle" style="font-size:19px;font-weight:bold;letter-spacing:0.9px;">****</text>
<rect x="143.45" y="762.95" width="6.70" height="6.70" fill="#fff" stroke="#000" stroke-width="1.3"/>
<text x="156.60" y="770.50" style="font-size:13.6px;font-weight:bold;" fill="#000">WT</text>
<rect x="143.45" y="779.25" width="6.70" height="6.70" fill="#bcbcbc" stroke="#000" stroke-width="1.3"/>
<text x="156.60" y="786.80" style="font-size:13.6px;font-weight:bold;font-style:italic;" fill="#000">rbohD-as-10</text>
<rect x="142.80" y="794.90" width="8.00" height="8.00" fill="#000"/>
<text x="156.60" y="803.10" style="font-size:13.6px;font-weight:bold;font-style:italic;" fill="#000">rbohF-as-8</text>
<text x="166.80" y="981.70" text-anchor="middle" style="font-size:13.6px;font-weight:bold;font-style:italic;" fill="#000">MnSODmi</text>
<text x="246.00" y="981.70" text-anchor="middle" style="font-size:13.6px;font-weight:bold;font-style:italic;" fill="#000">CuZnSODc</text>
<text x="326.50" y="981.70" text-anchor="middle" style="font-size:13.6px;font-weight:bold;font-style:italic;" fill="#000">CAT1</text>
<text x="406.00" y="981.70" text-anchor="middle" style="font-size:13.6px;font-weight:bold;font-style:italic;" fill="#000">CAT2</text>
<text x="486.30" y="981.70" text-anchor="middle" style="font-size:13.6px;font-weight:bold;font-style:italic;" fill="#000">GSTF</text>
<rect x="570.20" y="754.30" width="81.20" height="209.50" fill="none" stroke="#000" stroke-width="2.8" />
<line x1="570.20" y1="784.23" x2="574.20" y2="784.23" stroke="#000" stroke-width="2.3"/>
<line x1="570.20" y1="814.16" x2="574.20" y2="814.16" stroke="#000" stroke-width="2.3"/>
<line x1="570.20" y1="844.09" x2="574.20" y2="844.09" stroke="#000" stroke-width="2.3"/>
<line x1="570.20" y1="874.01" x2="574.20" y2="874.01" stroke="#000" stroke-width="2.3"/>
<line x1="570.20" y1="903.94" x2="574.20" y2="903.94" stroke="#000" stroke-width="2.3"/>
<line x1="570.20" y1="933.87" x2="574.20" y2="933.87" stroke="#000" stroke-width="2.3"/>
<text x="559.40" y="758.60" text-anchor="end" style="font-size:14.1px;font-weight:bold;" fill="#000">140</text>
<text x="559.40" y="788.53" text-anchor="end" style="font-size:14.1px;font-weight:bold;" fill="#000">120</text>
<text x="559.40" y="818.46" text-anchor="end" style="font-size:14.1px;font-weight:bold;" fill="#000">100</text>
<text x="559.40" y="848.39" text-anchor="end" style="font-size:14.1px;font-weight:bold;" fill="#000">80</text>
<text x="559.40" y="878.31" text-anchor="end" style="font-size:14.1px;font-weight:bold;" fill="#000">60</text>
<text x="559.40" y="908.24" text-anchor="end" style="font-size:14.1px;font-weight:bold;" fill="#000">40</text>
<text x="559.40" y="938.17" text-anchor="end" style="font-size:14.1px;font-weight:bold;" fill="#000">20</text>
<text x="559.40" y="968.10" text-anchor="end" style="font-size:14.1px;font-weight:bold;" fill="#000">0</text>
<line x1="592.65" y1="789.00" x2="592.65" y2="777.50" stroke="#000" stroke-width="1.5"/>
<line x1="588.65" y1="777.50" x2="596.65" y2="777.50" stroke="#000" stroke-width="1.5"/>
<rect x="583.80" y="789.00" width="17.70" height="174.80" fill="#fff" stroke="#000" stroke-width="1.4"/>
<line x1="610.35" y1="868.50" x2="610.35" y2="859.00" stroke="#000" stroke-width="1.5"/>
<line x1="606.35" y1="859.00" x2="614.35" y2="859.00" stroke="#000" stroke-width="1.5"/>
<rect x="601.50" y="868.50" width="17.70" height="95.30" fill="#bcbcbc" stroke="#000" stroke-width="1.4"/>
<line x1="628.45" y1="901.00" x2="628.45" y2="897.50" stroke="#000" stroke-width="1.5"/>
<line x1="624.45" y1="897.50" x2="632.45" y2="897.50" stroke="#000" stroke-width="1.5"/>
<rect x="618.90" y="900.70" width="19.10" height="63.10" fill="#000"/>
<text x="611.45" y="859.25" text-anchor="middle" style="font-size:19px;font-weight:bold;letter-spacing:0.9px;">**</text>
<text x="628.45" y="896.95" text-anchor="middle" style="font-size:19px;font-weight:bold;letter-spacing:0.9px;">**</text>
<text x="612.30" y="981.70" text-anchor="middle" style="font-size:13.6px;font-weight:bold;font-style:italic;" fill="#000">APXc</text>
<text x="0.50" y="1028.00" style="font-size:24px;font-weight:bold;" fill="#000">E</text>
<text x="206.70" y="1031.30" text-anchor="middle" style="font-size:21.3px;font-weight:bold;" fill="#000">WT</text>
<text x="361.30" y="1031.30" text-anchor="middle" style="font-size:21.5px;font-weight:bold;font-style:italic;" fill="#000">rbohD-as-10</text>
<text x="517.00" y="1031.30" text-anchor="middle" style="font-size:21.4px;font-weight:bold;font-style:italic;" fill="#000">rbohF-as-8</text>
<text x="70.70" y="1108.40" text-anchor="middle" style="font-size:18.9px;font-weight:bold;" fill="#000">Control</text>
<text x="70.50" y="1221.50" text-anchor="middle" style="font-size:18.8px;font-weight:bold;" fill="#000">Pathogen</text>
<rect x="131.20" y="1047.40" width="151.00" height="109.00" fill="#fff" stroke="#c9c9c9" stroke-width="1" />
<rect x="286.00" y="1047.40" width="150.70" height="109.00" fill="#fff" stroke="#c9c9c9" stroke-width="1" />
<rect x="439.90" y="1047.40" width="151.80" height="109.00" fill="#fff" stroke="#c9c9c9" stroke-width="1" />
<rect x="131.20" y="1161.60" width="151.00" height="108.10" fill="#fff" stroke="#c9c9c9" stroke-width="1" />
<rect x="286.00" y="1161.60" width="150.70" height="108.10" fill="#fff" stroke="#c9c9c9" stroke-width="1" />
<rect x="439.90" y="1161.60" width="151.80" height="108.10" fill="#fff" stroke="#c9c9c9" stroke-width="1" />
<g filter="url(#soft)">
<path d="M213.74,1145.08 Q210.06,1136.96 189.19,1131.81" stroke="#dde2f1" stroke-width="2.6" stroke-linecap="round" fill="none" style="mix-blend-mode:multiply"/>
<g transform="translate(161.89 1120.23) rotate(203.0)" style="mix-blend-mode:multiply"><path d="M26.48,0 C26.48,-12.84 18.00,-22.13 5.30,-22.13 C-9.00,-22.13 -18.00,-16.38 -22.77,-7.97 C-25.15,-3.76 -28.07,-1.11 -32.30,0 C-28.07,1.11 -25.15,3.76 -22.77,7.97 C-18.00,16.38 -9.00,22.13 5.30,22.13 C18.00,22.13 26.48,12.84 26.48,0Z" fill="url(#g0)"/><path d="M-29.12,0 L15.89,0" stroke="#b9c4e4" stroke-width="0.9" stroke-linecap="round" opacity="0.75"/></g>
<path d="M213.74,1145.08 Q216.17,1137.13 229.96,1132.13" stroke="#dde2f1" stroke-width="2.6" stroke-linecap="round" fill="none" style="mix-blend-mode:multiply"/>
<g transform="translate(254.35 1120.24) rotate(-26.0)" style="mix-blend-mode:multiply"><path d="M24.22,0 C24.22,-11.48 16.47,-19.79 4.84,-19.79 C-8.24,-19.79 -16.47,-14.65 -20.83,-7.12 C-23.01,-3.36 -25.68,-0.99 -29.55,0 C-25.68,0.99 -23.01,3.36 -20.83,7.12 C-16.47,14.65 -8.24,19.79 4.84,19.79 C16.47,19.79 24.22,11.48 24.22,0Z" fill="url(#g1)"/><path d="M-26.65,0 L14.53,0" stroke="#b9c4e4" stroke-width="0.9" stroke-linecap="round" opacity="0.75"/></g>
<path d="M213.74,1145.08 Q210.97,1125.65 195.29,1111.26" stroke="#dde2f1" stroke-width="2.6" stroke-linecap="round" fill="none" style="mix-blend-mode:multiply"/>
<g transform="translate(181.90 1082.53) rotate(245.0)" style="mix-blend-mode:multiply"><path d="M28.31,0 C28.31,-10.29 19.25,-17.75 5.66,-17.75 C-9.62,-17.75 -19.25,-13.13 -24.34,-6.39 C-26.89,-3.02 -30.00,-0.89 -34.53,0 C-30.00,0.89 -26.89,3.02 -24.34,6.39 C-19.25,13.13 -9.62,17.75 5.66,17.75 C19.25,17.75 28.31,10.29 28.31,0Z" fill="url(#g2)"/><path d="M-31.14,0 L16.98,0" stroke="#b9c4e4" stroke-width="0.9" stroke-linecap="round" opacity="0.75"/></g>
<path d="M213.74,1145.08 Q216.04,1123.09 229.10,1106.61" stroke="#dde2f1" stroke-width="2.6" stroke-linecap="round" fill="none" style="mix-blend-mode:multiply"/>
<g transform="translate(243.10 1079.13) rotate(-63.0)" style="mix-blend-mode:multiply"><path d="M27.53,0 C27.53,-10.01 18.72,-17.26 5.51,-17.26 C-9.36,-17.26 -18.72,-12.77 -23.68,-6.21 C-26.16,-2.93 -29.18,-0.86 -33.59,0 C-29.18,0.86 -26.16,2.93 -23.68,6.21 C-18.72,12.77 -9.36,17.26 5.51,17.26 C18.72,17.26 27.53,10.01 27.53,0Z" fill="url(#g3)"/><path d="M-30.29,0 L16.52,0" stroke="#b9c4e4" stroke-width="0.9" stroke-linecap="round" opacity="0.75"/></g>
<path d="M213.74,1145.08 Q213.57,1126.35 212.61,1112.53" stroke="#dde2f1" stroke-width="2.6" stroke-linecap="round" fill="none" style="mix-blend-mode:multiply"/>
<g transform="translate(213.37 1090.59) rotate(-88.0)" style="mix-blend-mode:multiply"><path d="M19.60,0 C19.60,-7.78 13.33,-13.41 3.92,-13.41 C-6.66,-13.41 -13.33,-9.92 -16.86,-4.83 C-18.62,-2.28 -20.78,-0.67 -23.91,0 C-20.78,0.67 -18.62,2.28 -16.86,4.83 C-13.33,9.92 -6.66,13.41 3.92,13.41 C13.33,13.41 19.60,7.78 19.60,0Z" fill="url(#g4)"/><path d="M-21.56,0 L11.76,0" stroke="#b9c4e4" stroke-width="0.9" stroke-linecap="round" opacity="0.75"/></g>
<path d="M213.74,1145.08 Q212.38,1130.77 202.39,1122.74" stroke="#7f8dc0" stroke-width="1.1" stroke-linecap="round" fill="none" opacity="0.85"/>
<path d="M213.74,1145.08 Q215.00,1130.07 224.24,1121.57" stroke="#7f8dc0" stroke-width="1.1" stroke-linecap="round" fill="none" opacity="0.85"/>
<path d="M213.74,1145.08 Q213.73,1132.53 213.62,1125.66" stroke="#7f8dc0" stroke-width="1.1" stroke-linecap="round" fill="none" opacity="0.85"/>
<path d="M213.74,1147.58 l-0.42,-11.99" stroke="#2f3a66" stroke-width="2.4" stroke-linecap="round" fill="none"/>
<circle cx="225.78" cy="1071.22" r="0.89" fill="#4a5aa6" opacity="0.8"/>
<circle cx="205.71" cy="1110.90" r="0.89" fill="#4a5aa6" opacity="0.8"/>
<circle cx="185.65" cy="1122.94" r="0.67" fill="#4a5aa6" opacity="0.8"/>
</g>
<g filter="url(#soft)">
<path d="M364.73,1128.80 Q362.66,1113.97 350.93,1103.34" stroke="#dde2f1" stroke-width="2.6" stroke-linecap="round" fill="none" style="mix-blend-mode:multiply"/>
<g transform="translate(326.25 1092.86) rotate(203.0)" style="mix-blend-mode:multiply"><path d="M23.94,0 C23.94,-10.29 16.28,-17.74 4.79,-17.74 C-8.14,-17.74 -16.28,-13.13 -20.59,-6.39 C-22.74,-3.02 -25.37,-0.89 -29.20,0 C-25.37,0.89 -22.74,3.02 -20.59,6.39 C-16.28,13.13 -8.14,17.74 4.79,17.74 C16.28,17.74 23.94,10.29 23.94,0Z" fill="url(#g5)"/><path d="M-26.33,0 L14.36,0" stroke="#b9c4e4" stroke-width="0.9" stroke-linecap="round" opacity="0.75"/></g>
<path d="M364.73,1128.80 Q364.82,1123.11 365.34,1119.95" stroke="#dde2f1" stroke-width="2.6" stroke-linecap="round" fill="none" style="mix-blend-mode:multiply"/>
<g transform="translate(329.00 1125.06) rotate(172.0)" style="mix-blend-mode:multiply"><path d="M32.76,0 C32.76,-11.55 22.28,-19.92 6.55,-19.92 C-11.14,-19.92 -22.28,-14.74 -28.17,-7.17 C-31.12,-3.39 -34.72,-1.00 -39.97,0 C-34.72,1.00 -31.12,3.39 -28.17,7.17 C-22.28,14.74 -11.14,19.92 6.55,19.92 C22.28,19.92 32.76,11.55 32.76,0Z" fill="url(#g6)"/><path d="M-36.04,0 L19.66,0" stroke="#b9c4e4" stroke-width="0.9" stroke-linecap="round" opacity="0.75"/></g>
<path d="M364.73,1128.80 Q365.23,1118.39 368.10,1111.36" stroke="#dde2f1" stroke-width="2.6" stroke-linecap="round" fill="none" style="mix-blend-mode:multiply"/>
<g transform="translate(401.16 1098.01) rotate(-22.0)" style="mix-blend-mode:multiply"><path d="M31.83,0 C31.83,-11.58 21.65,-19.96 6.37,-19.96 C-10.82,-19.96 -21.65,-14.77 -27.37,-7.18 C-30.24,-3.39 -33.74,-1.00 -38.83,0 C-33.74,1.00 -30.24,3.39 -27.37,7.18 C-21.65,14.77 -10.82,19.96 6.37,19.96 C21.65,19.96 31.83,11.58 31.83,0Z" fill="url(#g7)"/><path d="M-35.01,0 L19.10,0" stroke="#b9c4e4" stroke-width="0.9" stroke-linecap="round" opacity="0.75"/></g>
<path d="M364.73,1128.80 Q365.63,1126.11 370.74,1125.41" stroke="#dde2f1" stroke-width="2.6" stroke-linecap="round" fill="none" style="mix-blend-mode:multiply"/>
<g transform="translate(398.07 1132.23) rotate(14.0)" style="mix-blend-mode:multiply"><path d="M25.14,0 C25.14,-9.97 17.10,-17.20 5.03,-17.20 C-8.55,-17.20 -17.10,-12.73 -21.62,-6.19 C-23.89,-2.92 -26.65,-0.86 -30.67,0 C-26.65,0.86 -23.89,2.92 -21.62,6.19 C-17.10,12.73 -8.55,17.20 5.03,17.20 C17.10,17.20 25.14,9.97 25.14,0Z" fill="url(#g8)"/><path d="M-27.66,0 L15.09,0" stroke="#b9c4e4" stroke-width="0.9" stroke-linecap="round" opacity="0.75"/></g>
<path d="M364.73,1128.80 Q365.38,1121.90 369.08,1117.75" stroke="#dde2f1" stroke-width="2.6" stroke-linecap="round" fill="none" style="mix-blend-mode:multiply"/>
<g transform="translate(375.05 1083.88) rotate(-80.0)" style="mix-blend-mode:multiply"><path d="M30.71,0 C30.71,-10.49 20.88,-18.09 6.14,-18.09 C-10.44,-18.09 -20.88,-13.39 -26.41,-6.51 C-29.18,-3.08 -32.56,-0.90 -37.47,0 C-32.56,0.90 -29.18,3.08 -26.41,6.51 C-20.88,13.39 -10.44,18.09 6.14,18.09 C20.88,18.09 30.71,10.49 30.71,0Z" fill="url(#g9)"/><path d="M-33.78,0 L18.43,0" stroke="#b9c4e4" stroke-width="0.9" stroke-linecap="round" opacity="0.75"/></g>
<path d="M364.73,1128.80 Q364.14,1117.09 360.81,1109.01" stroke="#dde2f1" stroke-width="2.6" stroke-linecap="round" fill="none" style="mix-blend-mode:multiply"/>
<g transform="translate(351.22 1090.97) rotate(-118.0)" style="mix-blend-mode:multiply"><path d="M18.24,0 C18.24,-7.64 12.41,-13.17 3.65,-13.17 C-6.20,-13.17 -12.41,-9.75 -15.69,-4.74 C-17.33,-2.24 -19.34,-0.66 -22.26,0 C-19.34,0.66 -17.33,2.24 -15.69,4.74 C-12.41,9.75 -6.20,13.17 3.65,13.17 C12.41,13.17 18.24,7.64 18.24,0Z" fill="url(#g10)"/><path d="M-20.07,0 L10.95,0" stroke="#b9c4e4" stroke-width="0.9" stroke-linecap="round" opacity="0.75"/></g>
<path d="M364.73,1128.80 Q365.11,1119.54 367.90,1114.87" stroke="#6a78b0" stroke-width="1.2" stroke-linecap="round" fill="none" opacity="0.85"/>
<path d="M364.73,1128.80 Q364.23,1120.95 360.55,1117.21" stroke="#6a78b0" stroke-width="1.2" stroke-linecap="round" fill="none" opacity="0.85"/>
<path d="M364.73,1131.30 l-0.56,-15.99" stroke="#2f3a66" stroke-width="2.4" stroke-linecap="round" fill="none"/>
<circle cx="384.79" cy="1066.31" r="0.89" fill="#4a5aa6" opacity="0.8"/>
<circle cx="388.36" cy="1069.21" r="0.78" fill="#4a5aa6" opacity="0.8"/>
<circle cx="382.79" cy="1071.44" r="0.67" fill="#4a5aa6" opacity="0.8"/>
<circle cx="391.04" cy="1073.67" r="0.67" fill="#4a5aa6" opacity="0.8"/>
<circle cx="356.48" cy="1079.69" r="1.11" fill="#4a5aa6" opacity="0.8"/>
<circle cx="342.88" cy="1089.50" r="1.00" fill="#4a5aa6" opacity="0.8"/>
<circle cx="339.31" cy="1082.36" r="0.78" fill="#4a5aa6" opacity="0.8"/>
<circle cx="330.17" cy="1077.46" r="0.67" fill="#4a5aa6" opacity="0.8"/>
<circle cx="307.87" cy="1112.46" r="0.67" fill="#4a5aa6" opacity="0.8"/>
</g>
<g filter="url(#soft)">
<path d="M517.94,1137.72 Q514.98,1125.04 498.20,1116.17" stroke="#dde2f1" stroke-width="2.6" stroke-linecap="round" fill="none" style="mix-blend-mode:multiply"/>
<g transform="translate(472.38 1103.02) rotate(207.0)" style="mix-blend-mode:multiply"><path d="M25.87,0 C25.87,-12.54 17.59,-21.63 5.17,-21.63 C-8.80,-21.63 -17.59,-16.00 -22.25,-7.79 C-24.58,-3.68 -27.42,-1.08 -31.56,0 C-27.42,1.08 -24.58,3.68 -22.25,7.79 C-17.59,16.00 -8.80,21.63 5.17,21.63 C17.59,21.63 25.87,12.54 25.87,0Z" fill="url(#g11)"/><path d="M-28.46,0 L15.52,0" stroke="#b9c4e4" stroke-width="0.9" stroke-linecap="round" opacity="0.75"/></g>
<path d="M517.94,1137.72 Q515.88,1134.50 504.22,1133.36" stroke="#dde2f1" stroke-width="2.6" stroke-linecap="round" fill="none" style="mix-blend-mode:multiply"/>
<g transform="translate(482.78 1135.23) rotate(175.0)" style="mix-blend-mode:multiply"><path d="M19.21,0 C19.21,-9.10 13.06,-15.70 3.84,-15.70 C-6.53,-15.70 -13.06,-11.62 -16.52,-5.65 C-18.25,-2.67 -20.36,-0.78 -23.44,0 C-20.36,0.78 -18.25,2.67 -16.52,5.65 C-13.06,11.62 -6.53,15.70 3.84,15.70 C13.06,15.70 19.21,9.10 19.21,0Z" fill="url(#g12)"/><path d="M-21.13,0 L11.53,0" stroke="#b9c4e4" stroke-width="0.9" stroke-linecap="round" opacity="0.75"/></g>
<path d="M517.94,1137.72 Q519.78,1122.75 530.17,1112.00" stroke="#dde2f1" stroke-width="2.6" stroke-linecap="round" fill="none" style="mix-blend-mode:multiply"/>
<g transform="translate(558.06 1095.90) rotate(-30.0)" style="mix-blend-mode:multiply"><path d="M28.75,0 C28.75,-11.09 19.55,-19.12 5.75,-19.12 C-9.78,-19.12 -19.55,-14.15 -24.73,-6.88 C-27.32,-3.25 -30.48,-0.96 -35.08,0 C-30.48,0.96 -27.32,3.25 -24.73,6.88 C-19.55,14.15 -9.78,19.12 5.75,19.12 C19.55,19.12 28.75,11.09 28.75,0Z" fill="url(#g13)"/><path d="M-31.63,0 L17.25,0" stroke="#b9c4e4" stroke-width="0.9" stroke-linecap="round" opacity="0.75"/></g>
<path d="M517.94,1137.72 Q520.81,1135.79 537.06,1135.72" stroke="#dde2f1" stroke-width="2.6" stroke-linecap="round" fill="none" style="mix-blend-mode:multiply"/>
<g transform="translate(561.02 1133.20) rotate(-6.0)" style="mix-blend-mode:multiply"><path d="M21.51,0 C21.51,-10.43 14.63,-17.98 4.30,-17.98 C-7.31,-17.98 -14.63,-13.31 -18.50,-6.47 C-20.44,-3.06 -22.80,-0.90 -26.24,0 C-22.80,0.90 -20.44,3.06 -18.50,6.47 C-14.63,13.31 -7.31,17.98 4.30,17.98 C14.63,17.98 21.51,10.43 21.51,0Z" fill="url(#g14)"/><path d="M-23.66,0 L12.91,0" stroke="#b9c4e4" stroke-width="0.9" stroke-linecap="round" opacity="0.75"/></g>
<path d="M517.94,1137.72 Q518.36,1126.17 520.70,1118.22" stroke="#dde2f1" stroke-width="2.6" stroke-linecap="round" fill="none" style="mix-blend-mode:multiply"/>
<g transform="translate(521.90 1083.90) rotate(-88.0)" style="mix-blend-mode:multiply"><path d="M30.67,0 C30.67,-12.17 20.85,-20.98 6.13,-20.98 C-10.43,-20.98 -20.85,-15.52 -26.37,-7.55 C-29.13,-3.57 -32.51,-1.05 -37.41,0 C-32.51,1.05 -29.13,3.57 -26.37,7.55 C-20.85,15.52 -10.43,20.98 6.13,20.98 C20.85,20.98 30.67,12.17 30.67,0Z" fill="url(#g15)"/><path d="M-33.73,0 L18.40,0" stroke="#b9c4e4" stroke-width="0.9" stroke-linecap="round" opacity="0.75"/></g>
<path d="M517.94,1137.72 Q517.22,1126.55 513.10,1118.92" stroke="#dde2f1" stroke-width="2.6" stroke-linecap="round" fill="none" style="mix-blend-mode:multiply"/>
<g transform="translate(501.30 1102.07) rotate(-125.0)" style="mix-blend-mode:multiply"><path d="M18.37,0 C18.37,-7.89 12.49,-13.61 3.67,-13.61 C-6.24,-13.61 -12.49,-10.07 -15.80,-4.90 C-17.45,-2.31 -19.47,-0.68 -22.41,0 C-19.47,0.68 -17.45,2.31 -15.80,4.90 C-12.49,10.07 -6.24,13.61 3.67,13.61 C12.49,13.61 18.37,7.89 18.37,0Z" fill="url(#g16)"/><path d="M-20.20,0 L11.02,0" stroke="#b9c4e4" stroke-width="0.9" stroke-linecap="round" opacity="0.75"/></g>
<path d="M517.94,1137.72 Q516.37,1130.89 504.86,1127.84" stroke="#7684b8" stroke-width="1.2" stroke-linecap="round" fill="none" opacity="0.85"/>
<path d="M517.94,1137.72 Q519.33,1129.67 529.52,1125.81" stroke="#7684b8" stroke-width="1.2" stroke-linecap="round" fill="none" opacity="0.85"/>
<path d="M517.94,1137.72 Q518.08,1127.52 519.07,1122.22" stroke="#7684b8" stroke-width="1.2" stroke-linecap="round" fill="none" opacity="0.85"/>
<path d="M517.94,1137.72 Q517.37,1130.70 513.14,1127.53" stroke="#7684b8" stroke-width="1.2" stroke-linecap="round" fill="none" opacity="0.85"/>
<path d="M517.94,1140.22 l-0.77,-21.99" stroke="#3a4678" stroke-width="2.4" stroke-linecap="round" fill="none"/>
<circle cx="550.05" cy="1077.90" r="0.78" fill="#4a5aa6" opacity="0.8"/>
<circle cx="513.48" cy="1075.67" r="0.67" fill="#4a5aa6" opacity="0.8"/>
</g>
<g filter="url(#softw)">
<path d="M209.73,1235.23 Q209.17,1230.49 206.00,1228.12" stroke="#9fb0e2" stroke-width="2.6" stroke-linecap="round" fill="none" style="mix-blend-mode:multiply"/>
<g transform="translate(170.83 1236.89) rotate(166.0)" style="mix-blend-mode:multiply"><path d="M32.37,0 C32.37,-14.98 22.01,-25.83 6.47,-25.83 C-11.00,-25.83 -22.01,-19.11 -27.84,-9.30 C-30.75,-4.39 -34.31,-1.29 -39.49,0 C-34.31,1.29 -30.75,4.39 -27.84,9.30 C-22.01,19.11 -11.00,25.83 6.47,25.83 C22.01,25.83 32.37,14.98 32.37,0Z" fill="url(#g17)"/><path d="M-35.60,0 L19.42,0" stroke="#c3cef0" stroke-width="0.9" stroke-linecap="round" opacity="0.75"/></g>
<path d="M209.73,1235.23 Q210.71,1234.00 216.25,1234.50" stroke="#a9b8e6" stroke-width="2.6" stroke-linecap="round" fill="none" style="mix-blend-mode:multiply"/>
<g transform="translate(240.42 1238.77) rotate(10.0)" style="mix-blend-mode:multiply"><path d="M21.92,0 C21.92,-10.87 14.90,-18.74 4.38,-18.74 C-7.45,-18.74 -14.90,-13.87 -18.85,-6.75 C-20.82,-3.19 -23.23,-0.94 -26.74,0 C-23.23,0.94 -20.82,3.19 -18.85,6.75 C-14.90,13.87 -7.45,18.74 4.38,18.74 C14.90,18.74 21.92,10.87 21.92,0Z" fill="url(#g18)"/><path d="M-24.11,0 L13.15,0" stroke="#c3cef0" stroke-width="0.9" stroke-linecap="round" opacity="0.75"/></g>
<path d="M209.73,1235.23 Q208.51,1225.29 201.59,1218.66" stroke="#4456ae" stroke-width="2.4" stroke-linecap="round" fill="none" style="mix-blend-mode:multiply"/>
<g transform="translate(175.76 1195.40) rotate(222.0)" style="mix-blend-mode:multiply"><path d="M31.03,0 C31.03,-12.65 21.10,-21.82 6.21,-21.82 C-10.55,-21.82 -21.10,-16.14 -26.69,-7.85 C-29.48,-3.71 -32.89,-1.09 -37.86,0 C-32.89,1.09 -29.48,3.71 -26.69,7.85 C-21.10,16.14 -10.55,21.82 6.21,21.82 C21.10,21.82 31.03,12.65 31.03,0Z" fill="url(#g19)"/><path d="M-34.14,0 L18.62,0" stroke="#2c3c92" stroke-width="1.6" stroke-linecap="round" opacity="0.75"/></g>
<path d="M209.73,1235.23 Q210.85,1225.31 217.20,1218.70" stroke="#4456ae" stroke-width="2.4" stroke-linecap="round" fill="none" style="mix-blend-mode:multiply"/>
<g transform="translate(247.40 1195.94) rotate(-37.0)" style="mix-blend-mode:multiply"><path d="M33.77,0 C33.77,-13.77 22.96,-23.74 6.75,-23.74 C-11.48,-23.74 -22.96,-17.57 -29.04,-8.55 C-32.08,-4.04 -35.79,-1.19 -41.19,0 C-35.79,1.19 -32.08,4.04 -29.04,8.55 C-22.96,17.57 -11.48,23.74 6.75,23.74 C22.96,23.74 33.77,13.77 33.77,0Z" fill="url(#g20)"/><path d="M-37.14,0 L20.26,0" stroke="#2c3c92" stroke-width="1.6" stroke-linecap="round" opacity="0.75"/></g>
<path d="M209.73,1235.23 Q209.73,1227.28 209.73,1222.27" stroke="#4456ae" stroke-width="2.4" stroke-linecap="round" fill="none" style="mix-blend-mode:multiply"/>
<g transform="translate(209.73 1193.96) rotate(-90.0)" style="mix-blend-mode:multiply"><path d="M25.28,0 C25.28,-10.31 17.19,-17.77 5.06,-17.77 C-8.60,-17.77 -17.19,-13.15 -21.74,-6.40 C-24.02,-3.02 -26.80,-0.89 -30.84,0 C-26.80,0.89 -24.02,3.02 -21.74,6.40 C-17.19,13.15 -8.60,17.77 5.06,17.77 C17.19,17.77 25.28,10.31 25.28,0Z" fill="url(#g21)"/><path d="M-27.81,0 L15.17,0" stroke="#34459c" stroke-width="0.9" stroke-linecap="round" opacity="0.75"/></g>
<path d="M209.73,1235.23 Q207.96,1224.03 194.98,1218.06" stroke="#1c2552" stroke-width="1.5" stroke-linecap="round" fill="none" opacity="0.85"/>
<path d="M209.73,1235.23 Q211.69,1224.17 226.11,1218.30" stroke="#1c2552" stroke-width="1.5" stroke-linecap="round" fill="none" opacity="0.85"/>
<path d="M209.73,1235.23 Q209.73,1223.61 209.73,1217.36" stroke="#1c2552" stroke-width="1.5" stroke-linecap="round" fill="none" opacity="0.85"/>
<path d="M209.73,1237.73 l-0.70,-19.99" stroke="#141a36" stroke-width="3" stroke-linecap="round" fill="none"/>
</g>
<g filter="url(#soft)">
<path d="M362.50,1237.46 Q360.73,1227.17 350.71,1220.25" stroke="#b9c4e4" stroke-width="2.6" stroke-linecap="round" fill="none" style="mix-blend-mode:multiply"/>
<g transform="translate(326.78 1195.47) rotate(226.0)" style="mix-blend-mode:multiply"><path d="M30.76,0 C30.76,-13.22 20.92,-22.79 6.15,-22.79 C-10.46,-22.79 -20.92,-16.87 -26.45,-8.21 C-29.22,-3.87 -32.60,-1.14 -37.53,0 C-32.60,1.14 -29.22,3.87 -26.45,8.21 C-20.92,16.87 -10.46,22.79 6.15,22.79 C20.92,22.79 30.76,13.22 30.76,0Z" fill="url(#g22)"/><path d="M-33.83,0 L18.46,0" stroke="#b9c4e4" stroke-width="0.9" stroke-linecap="round" opacity="0.75"/></g>
<path d="M362.50,1237.46 Q361.16,1236.74 353.59,1237.65" stroke="#b9c4e4" stroke-width="2.6" stroke-linecap="round" fill="none" style="mix-blend-mode:multiply"/>
<g transform="translate(320.50 1239.97) rotate(176.0)" style="mix-blend-mode:multiply"><path d="M29.62,0 C29.62,-12.08 20.14,-20.82 5.92,-20.82 C-10.07,-20.82 -20.14,-15.41 -25.47,-7.50 C-28.14,-3.54 -31.40,-1.04 -36.14,0 C-31.40,1.04 -28.14,3.54 -25.47,7.50 C-20.14,15.41 -10.07,20.82 5.92,20.82 C20.14,20.82 29.62,12.08 29.62,0Z" fill="url(#g23)"/><path d="M-32.58,0 L17.77,0" stroke="#b9c4e4" stroke-width="0.9" stroke-linecap="round" opacity="0.75"/></g>
<path d="M362.50,1237.46 Q363.91,1227.34 371.93,1220.57" stroke="#8e9cc8" stroke-width="2.6" stroke-linecap="round" fill="none" style="mix-blend-mode:multiply"/>
<g transform="translate(401.32 1199.22) rotate(-36.0)" style="mix-blend-mode:multiply"><path d="M32.43,0 C32.43,-13.22 22.06,-22.80 6.49,-22.80 C-11.03,-22.80 -22.06,-16.87 -27.89,-8.21 C-30.81,-3.88 -34.38,-1.14 -39.57,0 C-34.38,1.14 -30.81,3.88 -27.89,8.21 C-22.06,16.87 -11.03,22.80 6.49,22.80 C22.06,22.80 32.43,13.22 32.43,0Z" fill="url(#g24)"/><path d="M-35.68,0 L19.46,0" stroke="#8e9cc8" stroke-width="0.9" stroke-linecap="round" opacity="0.75"/></g>
<path d="M362.50,1237.46 Q364.89,1236.96 378.48,1238.05" stroke="#8e9cc8" stroke-width="2.6" stroke-linecap="round" fill="none" style="mix-blend-mode:multiply"/>
<g transform="translate(404.27 1236.25) rotate(-4.0)" style="mix-blend-mode:multiply"><path d="M23.08,0 C23.08,-11.19 15.70,-19.30 4.62,-19.30 C-7.85,-19.30 -15.70,-14.28 -19.85,-6.95 C-21.93,-3.28 -24.47,-0.96 -28.16,0 C-24.47,0.96 -21.93,3.28 -19.85,6.95 C-15.70,14.28 -7.85,19.30 4.62,19.30 C15.70,19.30 23.08,11.19 23.08,0Z" fill="url(#g25)"/><path d="M-25.39,0 L13.85,0" stroke="#b9c4e4" stroke-width="0.9" stroke-linecap="round" opacity="0.75"/></g>
<path d="M362.50,1237.46 Q362.33,1230.70 361.38,1226.68" stroke="#55649e" stroke-width="2.6" stroke-linecap="round" fill="none" style="mix-blend-mode:multiply"/>
<g transform="translate(361.38 1198.95) rotate(-90.0)" style="mix-blend-mode:multiply"><path d="M24.76,0 C24.76,-10.91 16.84,-18.82 4.95,-18.82 C-8.42,-18.82 -16.84,-13.92 -21.29,-6.77 C-23.52,-3.20 -26.24,-0.94 -30.21,0 C-26.24,0.94 -23.52,3.20 -21.29,6.77 C-16.84,13.92 -8.42,18.82 4.95,18.82 C16.84,18.82 24.76,10.91 24.76,0Z" fill="url(#g26)"/><path d="M-27.23,0 L14.86,0" stroke="#55649e" stroke-width="1.4" stroke-linecap="round" opacity="0.75"/></g>
<path d="M362.50,1237.46 Q360.51,1224.92 345.94,1218.06" stroke="#2a3358" stroke-width="1.5" stroke-linecap="round" fill="none" opacity="0.85"/>
<path d="M362.50,1237.46 Q360.93,1237.03 349.45,1238.24" stroke="#2a3358" stroke-width="1.5" stroke-linecap="round" fill="none" opacity="0.85"/>
<path d="M362.50,1237.46 Q364.66,1225.97 380.56,1219.82" stroke="#2a3358" stroke-width="1.5" stroke-linecap="round" fill="none" opacity="0.85"/>
<path d="M362.50,1237.46 Q364.04,1236.32 375.37,1237.07" stroke="#2a3358" stroke-width="1.5" stroke-linecap="round" fill="none" opacity="0.85"/>
<path d="M362.50,1237.46 Q362.44,1225.82 362.00,1219.57" stroke="#2a3358" stroke-width="1.5" stroke-linecap="round" fill="none" opacity="0.85"/>
<path d="M362.50,1239.96 l-3.82,-21.67" stroke="#1e2646" stroke-width="2.8" stroke-linecap="round" fill="none"/>
<circle cx="359.38" cy="1179.42" r="1.56" fill="#4f68c0" opacity="0.8"/>
<circle cx="387.25" cy="1180.76" r="1.11" fill="#4f68c0" opacity="0.8"/>
<circle cx="428.05" cy="1185.44" r="1.11" fill="#4f68c0" opacity="0.8"/>
<circle cx="309.43" cy="1232.27" r="1.00" fill="#4f68c0" opacity="0.8"/>
<circle cx="313.44" cy="1252.78" r="0.78" fill="#4f68c0" opacity="0.8"/>
<circle cx="377.44" cy="1195.70" r="1.11" fill="#4f68c0" opacity="0.8"/>
</g>
<g filter="url(#softw)">
<path d="M519.73,1237.46 Q517.93,1230.72 507.78,1226.71" stroke="#c3cdea" stroke-width="2.6" stroke-linecap="round" fill="none" style="mix-blend-mode:multiply"/>
<g transform="translate(478.13 1200.01) rotate(222.0)" style="mix-blend-mode:multiply"><path d="M35.62,0 C35.62,-16.10 24.22,-27.75 7.12,-27.75 C-12.11,-27.75 -24.22,-20.54 -30.64,-9.99 C-33.84,-4.72 -37.76,-1.39 -43.46,0 C-37.76,1.39 -33.84,4.72 -30.64,9.99 C-24.22,20.54 -12.11,27.75 7.12,27.75 C24.22,27.75 35.62,16.10 35.62,0Z" fill="url(#g27)"/><path d="M-39.19,0 L21.37,0" stroke="#b9c4e4" stroke-width="0.9" stroke-linecap="round" opacity="0.75"/></g>
<path d="M519.73,1237.46 Q518.36,1238.86 510.63,1241.50" stroke="#c3cdea" stroke-width="2.6" stroke-linecap="round" fill="none" style="mix-blend-mode:multiply"/>
<g transform="translate(483.05 1244.40) rotate(174.0)" style="mix-blend-mode:multiply"><path d="M24.76,0 C24.76,-10.91 16.84,-18.82 4.95,-18.82 C-8.42,-18.82 -16.84,-13.92 -21.29,-6.77 C-23.52,-3.20 -26.24,-0.94 -30.21,0 C-26.24,0.94 -23.52,3.20 -21.29,6.77 C-16.84,13.92 -8.42,18.82 4.95,18.82 C16.84,18.82 24.76,10.91 24.76,0Z" fill="url(#g28)"/><path d="M-27.23,0 L14.86,0" stroke="#b9c4e4" stroke-width="0.9" stroke-linecap="round" opacity="0.75"/></g>
<path d="M519.73,1237.46 Q520.98,1227.47 528.10,1220.80" stroke="#c3cdea" stroke-width="2.6" stroke-linecap="round" fill="none" style="mix-blend-mode:multiply"/>
<g transform="translate(558.50 1200.30) rotate(-34.0)" style="mix-blend-mode:multiply"><path d="M32.74,0 C32.74,-13.71 22.27,-23.64 6.55,-23.64 C-11.13,-23.64 -22.27,-17.49 -28.16,-8.51 C-31.11,-4.02 -34.71,-1.18 -39.95,0 C-34.71,1.18 -31.11,4.02 -28.16,8.51 C-22.27,17.49 -11.13,23.64 6.55,23.64 C22.27,23.64 32.74,13.71 32.74,0Z" fill="url(#g29)"/><path d="M-36.02,0 L19.65,0" stroke="#b9c4e4" stroke-width="0.9" stroke-linecap="round" opacity="0.75"/></g>
<path d="M519.73,1237.46 Q520.17,1237.24 522.65,1238.57" stroke="#8fa2d8" stroke-width="2.6" stroke-linecap="round" fill="none" style="mix-blend-mode:multiply"/>
<g transform="translate(551.87 1242.68) rotate(8.0)" style="mix-blend-mode:multiply"><path d="M26.34,0 C26.34,-11.61 17.91,-20.02 5.27,-20.02 C-8.96,-20.02 -17.91,-14.81 -22.65,-7.21 C-25.02,-3.40 -27.92,-1.00 -32.13,0 C-27.92,1.00 -25.02,3.40 -22.65,7.21 C-17.91,14.81 -8.96,20.02 5.27,20.02 C17.91,20.02 26.34,11.61 26.34,0Z" fill="url(#g30)"/><path d="M-28.97,0 L15.80,0" stroke="#b9c4e4" stroke-width="0.9" stroke-linecap="round" opacity="0.75"/></g>
<path d="M519.73,1237.46 Q519.81,1229.53 520.28,1224.55" stroke="#7d8dc0" stroke-width="2.6" stroke-linecap="round" fill="none" style="mix-blend-mode:multiply"/>
<g transform="translate(520.28 1196.19) rotate(-90.0)" style="mix-blend-mode:multiply"><path d="M25.32,0 C25.32,-10.60 17.22,-18.28 5.06,-18.28 C-8.61,-18.28 -17.22,-13.53 -21.78,-6.58 C-24.05,-3.11 -26.84,-0.91 -30.89,0 C-26.84,0.91 -24.05,3.11 -21.78,6.58 C-17.22,13.53 -8.61,18.28 5.06,18.28 C17.22,18.28 25.32,10.60 25.32,0Z" fill="url(#g31)"/><path d="M-27.85,0 L15.19,0" stroke="#7d8dc0" stroke-width="0.9" stroke-linecap="round" opacity="0.75"/></g>
<path d="M519.73,1237.46 Q517.67,1227.28 502.56,1222.00" stroke="#2a3568" stroke-width="1.4" stroke-linecap="round" fill="none" opacity="0.85"/>
<path d="M519.73,1237.46 Q518.82,1237.41 512.15,1238.87" stroke="#2a3568" stroke-width="1.4" stroke-linecap="round" fill="none" opacity="0.85"/>
<path d="M519.73,1237.46 Q521.65,1227.42 535.78,1222.23" stroke="#2a3568" stroke-width="1.4" stroke-linecap="round" fill="none" opacity="0.85"/>
<path d="M519.73,1237.46 Q520.93,1237.53 529.76,1239.08" stroke="#2a3568" stroke-width="1.4" stroke-linecap="round" fill="none" opacity="0.85"/>
<path d="M519.73,1237.46 Q519.75,1226.35 519.95,1220.44" stroke="#2a3568" stroke-width="1.4" stroke-linecap="round" fill="none" opacity="0.85"/>
<path d="M519.73,1239.96 l-0.70,-19.99" stroke="#1a2244" stroke-width="2.8" stroke-linecap="round" fill="none"/>
</g>
</svg>
</body></html>
